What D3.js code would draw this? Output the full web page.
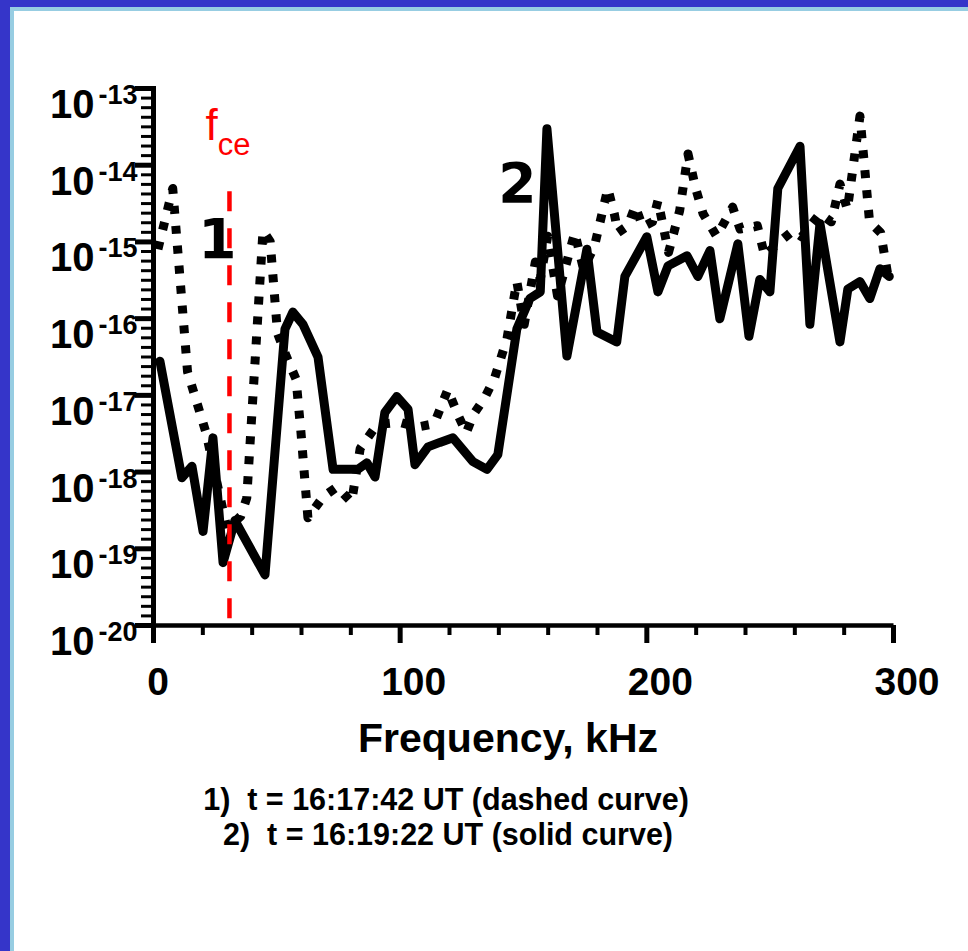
<!DOCTYPE html>
<html><head><meta charset="utf-8">
<script src="https://cdn.jsdelivr.net/npm/d3@7"></script>
<style>
html,body{margin:0;padding:0;background:#fff;}
svg{display:block;}
text{font-family:"Liberation Sans",Arial,sans-serif;}
</style></head><body>
<svg id="chart" width="968" height="951"></svg>
<script>
// ---- data ----
const freqTicks = [0, 100, 200, 300];
const freqMinor = [20, 40, 60, 80, 120, 140, 160, 180, 220, 240, 260, 280];
const powerExpTicks = [-20, -19, -18, -17, -16, -15, -14, -13];
const fce = 31;          // kHz, electron cyclotron frequency
const fceTop = 4.5e-15;  // top of the fce marker line

const dashedFreq = [2, 8, 12, 14, 21.5, 30, 35.5, 38, 44.6, 47.5, 50.5, 54, 58, 60, 62.8, 69,
  74.6, 80.5, 84, 90.8, 100, 107, 114, 119.5, 123.5, 127, 130, 134.6, 138.6, 143.5, 147.5, 150.5,
  155, 157, 160, 164, 171, 174.5, 179, 184.4, 187, 188.5, 192.5, 195.5, 198.5, 202.5, 204.7, 209,
  213.5, 216.9, 220, 223, 228.5, 235, 238, 245, 248, 253, 259.5, 263, 270.4, 275, 278.5, 281.5,
  286.6, 290.5, 295, 298];
const dashedPower = [7.9e-16, 4.9e-15, 1.26e-16, 2.0e-17, 3.2e-18, 1.8e-19, 2.6e-19, 4.5e-19,
  1.38e-15, 1.0e-15, 6.3e-17, 3.2e-17, 1.6e-17, 3.2e-18, 2.5e-19, 4.7e-19,
  6.3e-19, 4.0e-19, 2.0e-18, 4.1e-18, 4.4e-18, 3.8e-18, 4.2e-18, 1.17e-17,
  5.6e-18, 3.2e-18, 5.6e-18, 9.3e-18, 1.7e-17, 5.4e-17, 3.0e-16, 8.3e-17,
  5.4e-16, 3.2e-16, 1.17e-15, 1.95e-16, 1.3e-15, 4.4e-16, 8.7e-16, 4.9e-15,
  2.3e-15, 1.3e-15, 1.6e-15, 2.9e-15, 1.55e-15, 1.8e-15, 3.4e-15, 7.2e-16,
  2.5e-15, 1.38e-14, 4.9e-15, 2.3e-15, 1.17e-15, 2.8e-15, 1.45e-15, 1.6e-15,
  6.5e-16, 9.3e-16, 1.38e-15, 1.15e-15, 2.3e-15, 1.8e-15, 5.6e-15, 2.6e-15,
  4.3e-14, 1.8e-15, 1.3e-15, 3.5e-16];

const solidFreq = [2.8, 11.7, 15.8, 20.3, 24.3, 28.4, 33.2, 45.4, 53.5, 56.7, 60.8, 66.9, 73, 83,
  86.7, 90, 94, 98.8, 103.4, 106.2, 111.5, 116.3, 121.6, 129.7, 135.4, 139.8, 147.5, 152.8, 157,
  159.7, 167.8, 175.9, 180, 188, 191.3, 200.2, 204.7, 208.8, 216.5, 220.9, 225.8, 229.8, 237.1,
  241.6, 246, 250.1, 253.3, 262.3, 266.3, 270.4, 278.5, 281.7, 286.6, 290.6, 294.7, 298.5];
const solidPower = [2.75e-17, 8.3e-19, 1.17e-18, 1.66e-19, 2.75e-18, 6.5e-20, 2.3e-19, 4.5e-20,
  7.2e-17, 1.2e-16, 8.3e-17, 3.1e-17, 1.07e-18, 1.07e-18, 1.3e-18, 8.5e-19,
  5.9e-18, 9.5e-18, 6.5e-18, 1.23e-18, 2.1e-18, 2.4e-18, 2.75e-18, 1.35e-18,
  1.07e-18, 1.66e-18, 7.2e-17, 1.8e-16, 2.2e-16, 2.95e-14, 3.2e-17, 7.9e-16,
  6.6e-17, 4.9e-17, 3.5e-16, 1.15e-15, 2.2e-16, 4.8e-16, 6.5e-16, 3.5e-16,
  7.6e-16, 9.8e-17, 9.3e-16, 5.8e-17, 3.2e-16, 2.2e-16, 4.9e-15, 1.74e-14,
  8.3e-17, 1.7e-15, 4.9e-17, 2.4e-16, 3.0e-16, 1.8e-16, 4.4e-16, 3.5e-16];

const xTitle = "Frequency, kHz";
const legendLines = ["1)  t = 16:17:42 UT (dashed curve)", "2)  t = 16:19:22 UT (solid curve)"];
const curveLabels = ["1", "2"];

// ---- drawing ----
const svg = d3.select("#chart");
svg.append("rect").attr("width", 968).attr("height", 951).attr("fill", "#fff");
// slide frame
svg.append("rect").attr("x", 0).attr("y", 0).attr("width", 968).attr("height", 7).attr("fill", "#3535c9");
svg.append("rect").attr("x", 10).attr("y", 7).attr("width", 958).attr("height", 4).attr("fill", "#97cde2");
svg.append("rect").attr("x", 0).attr("y", 0).attr("width", 10).attr("height", 951).attr("fill", "#3535c9");
svg.append("rect").attr("x", 10).attr("y", 7).attr("width", 4).attr("height", 944).attr("fill", "#97cde2");

const x = d3.scaleLinear().domain([0, 300]).range([153, 893]);
const y = d3.scaleLog().domain([1e-20, 1e-13]).range([625, 88]);

// curves
const line = d3.line().x(d => x(d[0])).y(d => y(d[1]));
const dashed = dashedFreq.map((f, i) => [f, dashedPower[i]]);
const solid = solidFreq.map((f, i) => [f, solidPower[i]]);

svg.append("path").attr("d", line(dashed)).attr("fill", "none").attr("stroke", "#000")
  .attr("stroke-width", 9).attr("stroke-dasharray", "8,12").attr("stroke-linejoin", "round");
svg.append("path").attr("d", line(solid)).attr("fill", "none").attr("stroke", "#000")
  .attr("stroke-width", 9).attr("stroke-linejoin", "round").attr("stroke-linecap", "round");

// fce marker
svg.append("line").attr("x1", x(fce)).attr("x2", x(fce)).attr("y1", y(fceTop)).attr("y2", y(1e-20))
  .attr("stroke", "#ff0000").attr("stroke-width", 4.5).attr("stroke-dasharray", "20,17");
const fl = svg.append("text").attr("x", x(fce) - 24).attr("y", 140).attr("fill", "#ff0000");
fl.append("tspan").attr("font-size", 44).text("f");
fl.append("tspan").attr("font-size", 31).attr("dy", 15).text("ce");

// y axis: minor ticks evenly spaced within each decade
const yMinor = [];
for (let k = -20; k < -13; k++) for (let j = 1; j < 8; j++) yMinor.push(Math.pow(10, k + j / 8));
const gyMinor = svg.append("g").attr("transform", "translate(153,0)")
  .call(d3.axisLeft(y).tickValues(yMinor).tickSize(12).tickSizeOuter(0).tickFormat(""));
gyMinor.select(".domain").remove();
gyMinor.selectAll(".tick line").attr("stroke", "#000").attr("stroke-width", 3);

const gy = svg.append("g").attr("transform", "translate(153,0)")
  .call(d3.axisLeft(y).tickValues(powerExpTicks.map(p => Math.pow(10, p))).tickSize(18).tickSizeOuter(0).tickFormat(""));
gy.select(".domain").attr("stroke", "#000").attr("stroke-width", 5).attr("stroke-linecap", "square");
gy.selectAll(".tick line").attr("stroke", "#000").attr("stroke-width", 5);

powerExpTicks.forEach(p => {
  const t = svg.append("text").attr("x", 50).attr("y", y(Math.pow(10, p)) + 30)
    .attr("font-weight", "bold").attr("fill", "#000");
  t.append("tspan").attr("font-size", 40).text("10");
  t.append("tspan").attr("font-size", 27).attr("dx", 4).attr("dy", -14).text(String(p));
});

// x axis
const gxMinor = svg.append("g").attr("transform", "translate(0,625)")
  .call(d3.axisBottom(x).tickValues(freqMinor).tickSize(10).tickSizeOuter(0).tickFormat(""));
gxMinor.select(".domain").remove();
gxMinor.selectAll(".tick line").attr("stroke", "#000").attr("stroke-width", 4);

const gx = svg.append("g").attr("transform", "translate(0,625)")
  .call(d3.axisBottom(x).tickValues(freqTicks).tickSize(18).tickSizeOuter(0).tickFormat(""));
gx.select(".domain").attr("stroke", "#000").attr("stroke-width", 4.5);
gx.selectAll(".tick line").attr("stroke", "#000").attr("stroke-width", 5);

freqTicks.forEach(v => {
  svg.append("text").attr("x", x(v) + (v === 0 ? 5 : 14)).attr("y", 695)
    .attr("text-anchor", "middle").attr("font-weight", "bold").attr("font-size", 39).text(String(v));
});

// titles / labels
svg.append("text").attr("x", 508).attr("y", 752).attr("text-anchor", "middle")
  .attr("font-weight", "bold").attr("font-size", 41).text(xTitle);

svg.append("text").attr("x", 446).attr("y", 810).attr("text-anchor", "middle")
  .attr("font-weight", "bold").attr("font-size", 30.5).style("white-space", "pre").text(legendLines[0]);
svg.append("text").attr("x", 448).attr("y", 845).attr("text-anchor", "middle")
  .attr("font-weight", "bold").attr("font-size", 30.5).style("white-space", "pre").text(legendLines[1]);

svg.append("text").attr("x", 217.5).attr("y", 258).attr("text-anchor", "middle")
  .style("font-family", "'DejaVu Sans', sans-serif").attr("font-weight", "bold").attr("font-size", 55).text(curveLabels[0]);
svg.append("text").attr("x", 517.5).attr("y", 202).attr("text-anchor", "middle")
  .style("font-family", "'DejaVu Sans', sans-serif").attr("font-weight", "bold").attr("font-size", 55).text(curveLabels[1]);
</script>
</body></html>
